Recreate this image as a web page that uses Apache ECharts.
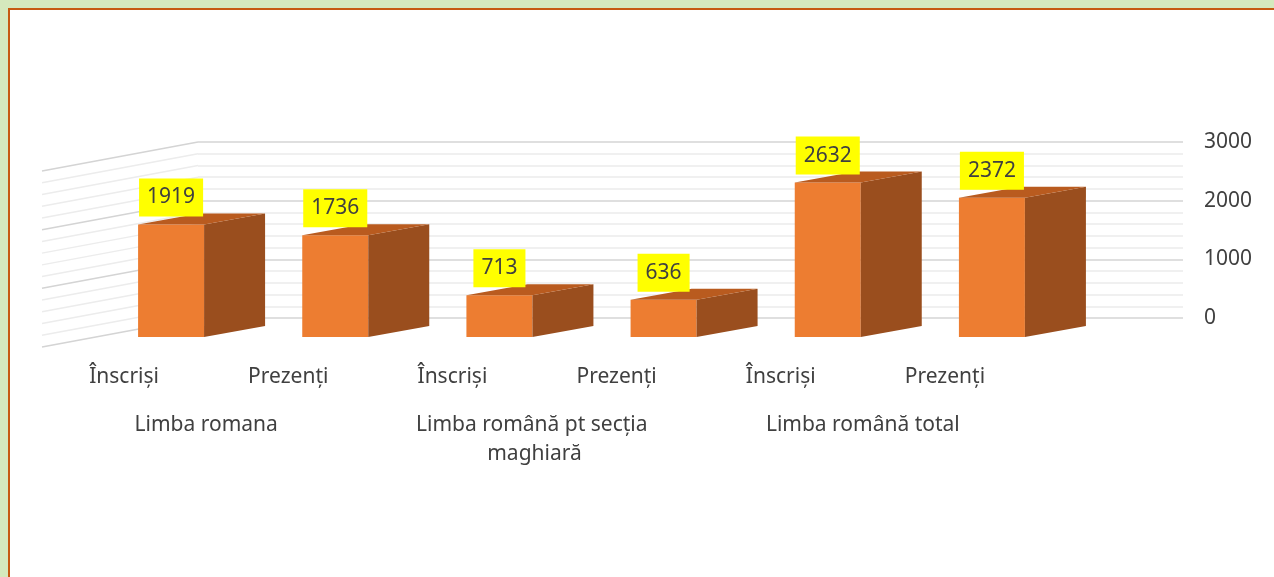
<!DOCTYPE html>
<html>
<head>
<meta charset="utf-8">
<script src="https://cdn.jsdelivr.net/npm/echarts@6/dist/echarts.min.js"></script>
<style>
    html, body { margin: 0; padding: 0; background: #d5e9bd; }
    .frame {
        position: absolute; left: 8px; top: 8px; right: 0; bottom: 0;
        border-left: 2px solid #c65a11; border-top: 2px solid #c65a11;
        background: #ffffff;
    }
    #chart { width: 1264px; height: 567px; }
</style>
</head>
<body>
<div class="frame"><div id="chart"></div></div>
<script>
    // date din grafic
    var categories = ['Înscriși', 'Prezenți', 'Înscriși', 'Prezenți', 'Înscriși', 'Prezenți'];
    var groups = ['Limba romana', 'Limba română pt secția maghiară', 'Limba română total'];
    var values = [1919, 1736, 713, 636, 2632, 2372];
    var wallLevels = [0, 200, 400, 600, 800, 1000, 1200, 1400, 1600, 1800, 2000, 2200, 2400, 2600, 2800, 3000];

    var FONT = '"Noto Sans", "Open Sans", sans-serif';
    var TXT = '#404040';

    // perspectiva: cat de mult iese in fata podeaua / bara
    var wallDX = -156, wallDY = 29;

    function renderWall(params, api) {
        var v = api.value(1);
        var y = api.coord([0, v])[1];
        var left = params.coordSys.x;
        var major = v % 1000 === 0;
        return {
            type: 'line',
            shape: { x1: left, y1: y, x2: left + wallDX, y2: y + wallDY },
            style: { stroke: major ? '#d4d4d4' : '#ececec', lineWidth: 1.5 }
        };
    }

    function renderBar(params, api) {
        var v = api.value(1);
        var top = api.coord([api.value(0), v]);
        var base = api.coord([api.value(0), 0]);
        var cx = top[0];
        var fl = cx - 142, fr = cx - 76, br = cx - 15;
        var yb = base[1] + 19, yt = top[1] + 19, dy = -11;
        return {
            type: 'group',
            children: [
                { type: 'rect', shape: { x: fl, y: yt, width: fr - fl, height: yb - yt },
                  style: { fill: '#ed7d31' } },
                { type: 'polygon', shape: { points: [[fr, yt], [br, yt + dy], [br, yb + dy], [fr, yb]] },
                  style: { fill: '#9a4e1e' } },
                { type: 'polygon', shape: { points: [[fl, yt], [fr, yt], [br, yt + dy], [fl + (br - fr), yt + dy]] },
                  style: { fill: '#b95b1f' } },
                { type: 'text',
                  style: {
                      text: String(v), x: (fl + fr) / 2, y: yt - 8,
                      align: 'center', verticalAlign: 'bottom',
                      font: '21px ' + FONT, fill: TXT, lineHeight: 26,
                      backgroundColor: '#ffff00', padding: [6, 8, 6, 8]
                  } }
            ]
        };
    }

    var chart = echarts.init(document.getElementById('chart'));
    var option = {
        animation: false,
        textStyle: { fontFamily: FONT },
        grid: [
            { left: 188, right: 91, top: 132, bottom: 259 },
            { left: 32, width: 985, top: 161, bottom: 230 }
        ],
        xAxis: [
            { gridIndex: 0, type: 'category', data: categories, show: false },
            { gridIndex: 1, type: 'category', data: categories, position: 'bottom',
              axisLine: { show: false }, axisTick: { show: false },
              axisLabel: { interval: 0, margin: 17, fontSize: 21, lineHeight: 26, color: TXT, fontFamily: FONT } },
            { gridIndex: 1, type: 'category', data: groups, position: 'bottom', offset: 0,
              axisLine: { show: false }, axisTick: { show: false },
              axisLabel: { interval: 0, margin: 64, fontSize: 21, lineHeight: 29, color: TXT, fontFamily: FONT,
                           width: 285, overflow: 'break' } }
        ],
        yAxis: [
            { gridIndex: 0, type: 'value', position: 'right', min: 0, max: 3000, interval: 1000,
              axisLine: { show: false }, axisTick: { show: false },
              axisLabel: { margin: 21, fontSize: 21, color: TXT, fontFamily: FONT,
                           formatter: function (v) { return String(v); } },
              splitLine: { lineStyle: { color: '#d4d4d4', width: 1.5 } },
              minorTick: { show: false, splitNumber: 5 },
              minorSplitLine: { show: true, lineStyle: { color: '#ececec', width: 1.5 } } },
            { gridIndex: 1, type: 'value', min: 0, max: 3000, show: false }
        ],
        series: [
            { type: 'custom', xAxisIndex: 0, yAxisIndex: 0, clip: false, silent: true,
              data: wallLevels.map(function (v) { return [0, v]; }),
              encode: { x: 0, y: 1 }, renderItem: renderWall },
            { type: 'custom', xAxisIndex: 0, yAxisIndex: 0, clip: false,
              data: values.map(function (v, i) { return [i, v]; }),
              encode: { x: 0, y: 1 }, renderItem: renderBar }
        ]
    };
    chart.setOption(option);
</script>
</body>
</html>
